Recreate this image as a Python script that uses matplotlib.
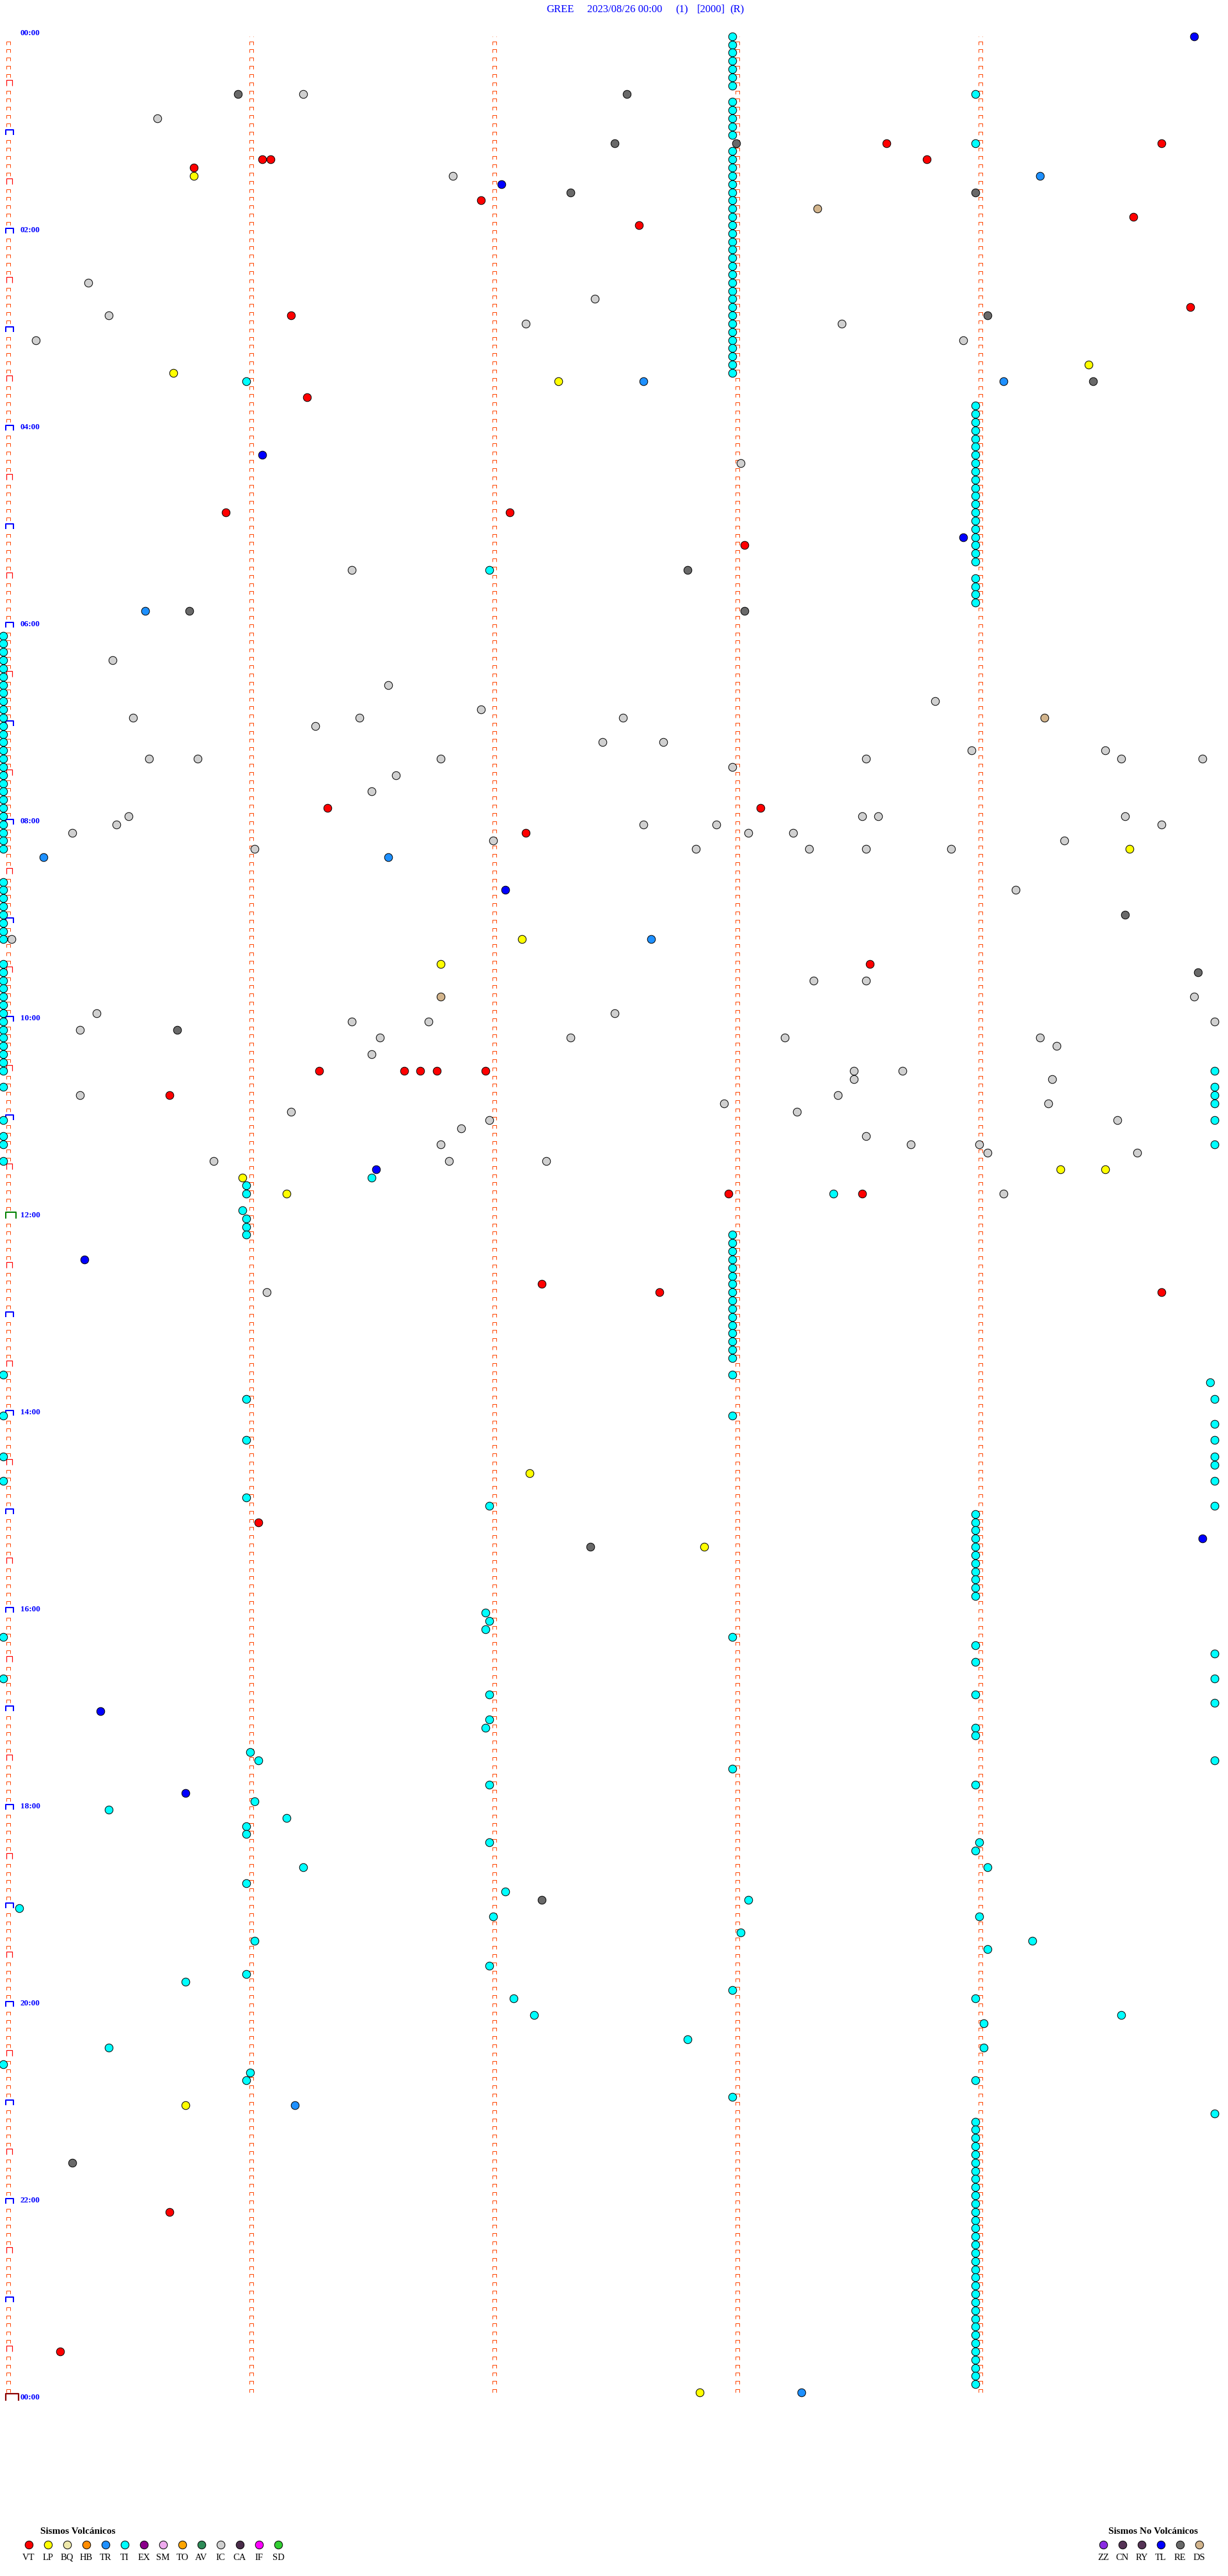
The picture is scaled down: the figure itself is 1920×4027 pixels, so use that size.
import matplotlib
matplotlib.use("Agg")
import matplotlib.pyplot as plt
from matplotlib.path import Path
from matplotlib.markers import MarkerStyle

# page size (pixels) and pixel -> point factor
W, H, DPI = 1920, 4027, 100
PT = 72.0 / DPI

# ---- header ----
station = "GREE"
date_label = "2023/08/26 00:00"
chan_label = "(1)"
gain_label = "[2000]"
mode_label = "(R)"

# ---- events, by type (HH:MM:SS) ----
vt_times = ["01:08:38", "01:09:46", "01:16:04", "01:16:06", "01:18:48", "01:20:47", "01:41:58",
            "01:54:39", "01:57:37", "02:49:53", "02:51:11", "03:41:15", "04:50:55", "04:52:05",
            "05:13:03", "07:51:20", "07:53:07", "08:07:09", "09:28:34", "10:31:18", "10:31:39",
            "10:31:43", "10:31:47", "10:31:59", "10:45:41", "11:47:59", "11:48:32", "12:42:13",
            "12:47:42", "12:49:46", "15:06:03", "22:05:41", "23:30:14"]

lp_times = ["01:25:47", "03:24:28", "03:25:42", "03:32:17", "08:19:38", "09:12:08", "09:26:48",
            "11:34:21", "11:34:32", "11:35:59", "11:46:10", "14:37:10", "15:22:53", "21:00:45",
            "23:57:52"]

tr_times = ["01:29:16", "03:32:38", "03:34:07", "05:50:35", "08:20:10", "08:21:35", "09:12:40",
            "21:01:12", "23:58:17"]

tl_times = ["00:04:54", "01:32:03", "04:16:04", "05:08:57", "08:42:04", "11:31:32", "12:25:20",
            "15:19:56", "17:00:24", "17:50:45"]

re_times = ["00:35:58", "00:37:34", "01:07:31", "01:08:01", "01:37:20", "01:39:00", "02:54:03",
            "03:34:29", "05:27:49", "05:50:46", "05:53:03", "08:59:37", "09:34:55", "10:05:43",
            "15:22:25", "18:57:13", "21:35:17"]

ds_times = ["01:48:21", "06:59:17", "09:46:48"]

ic_times = ["00:36:14", "00:50:38", "01:26:51", "02:30:21", "02:42:26", "02:50:26", "02:57:09",
            "02:58:27", "03:05:08", "03:08:57", "04:23:02", "05:26:26", "06:20:27", "06:36:35",
            "06:48:50", "06:51:58", "06:55:32", "06:56:28", "06:57:33", "07:01:17", "07:12:28",
            "07:12:43", "07:18:59", "07:19:32", "07:20:36", "07:20:48", "07:21:48", "07:23:33",
            "07:24:36", "07:24:56", "07:28:00", "07:31:37", "07:41:31", "07:55:31", "07:58:32",
            "07:58:36", "07:59:37", "08:00:28", "08:02:38", "08:02:56", "08:04:46", "08:05:17",
            "08:08:04", "08:08:15", "08:12:01", "08:14:22", "08:16:02", "08:17:51", "08:18:19",
            "08:18:33", "08:18:54", "08:44:10", "09:10:02", "09:38:20", "09:38:33", "09:49:54",
            "09:55:23", "09:57:31", "10:01:26", "10:01:45", "10:04:59", "10:05:19", "10:11:33",
            "10:12:20", "10:13:13", "10:14:16", "10:19:20", "10:21:31", "10:33:30", "10:33:42",
            "10:38:30", "10:39:19", "10:45:19", "10:48:26", "10:52:58", "10:54:18", "10:56:11",
            "10:58:16", "11:02:00", "11:04:35", "11:06:53", "11:13:33", "11:16:48", "11:18:44",
            "11:19:01", "11:24:03", "11:24:40", "11:25:52", "11:26:50", "11:27:14", "11:49:07",
            "12:46:05"]

ti_times = [
    # 00:00 - 03:30
    "00:03:00", "00:08:00", "00:13:00", "00:18:00", "00:23:00", "00:28:00", "00:33:00",
    "00:39:00", "00:43:00", "00:48:00", "00:53:00", "00:58:00", "01:03:00", "01:09:00",
    "01:13:00", "01:18:00", "01:23:00", "01:28:00", "01:33:00", "01:38:00", "01:43:00",
    "01:48:00", "01:53:00", "01:58:00", "02:03:00", "02:08:00", "02:13:00", "02:18:00",
    "02:23:00", "02:28:00", "02:33:00", "02:38:00", "02:43:00", "02:48:00", "02:53:00",
    "02:58:00", "03:03:00", "03:08:00", "03:13:00", "03:18:00", "03:23:00", "03:28:00",
    "03:31:00",
    # 03:45 - 05:50
    "03:49:00", "03:54:00", "03:59:00", "04:04:00", "04:09:00", "04:14:00", "04:19:00",
    "04:24:00", "04:29:00", "04:34:00", "04:39:00", "04:44:00", "04:49:00", "04:54:00",
    "04:59:00", "05:04:00", "05:09:00", "05:14:00", "05:19:00", "05:24:00", "05:27:00",
    "05:34:00", "05:39:00", "05:44:00", "05:49:00",
    # 06:05 - 11:25
    "06:05:00", "06:10:00", "06:15:00", "06:20:00", "06:25:00", "06:30:00", "06:35:00",
    "06:40:00", "06:45:00", "06:50:00", "06:55:00", "07:00:00", "07:05:00", "07:10:00",
    "07:15:00", "07:20:00", "07:25:00", "07:30:00", "07:35:00", "07:40:00", "07:45:00",
    "07:50:00", "07:55:00", "08:00:00", "08:05:00", "08:10:00", "08:15:00",
    "08:35:00", "08:40:00", "08:45:00", "08:50:00", "08:55:00", "09:00:00", "09:05:00",
    "09:10:00", "09:25:00", "09:30:00", "09:35:00", "09:40:00", "09:45:00", "09:50:00",
    "09:55:00", "10:00:00", "10:05:00", "10:10:00", "10:15:00", "10:20:00", "10:25:00",
    "10:30:00", "10:34:59", "10:40:00", "10:44:59", "10:49:59", "10:54:59", "11:00:00",
    "11:04:59", "11:10:00", "11:15:00", "11:19:59", "11:25:00",
    # 11:35 - 15:00
    "11:36:31", "11:41:00", "11:46:00", "11:48:25", "11:55:59", "12:01:00", "12:06:00",
    "12:11:00", "12:13:00", "12:18:00", "12:23:00", "12:28:00", "12:33:00", "12:38:00",
    "12:43:00", "12:48:00", "12:53:00", "12:58:00", "13:03:00", "13:08:00", "13:13:00",
    "13:18:00", "13:23:00", "13:28:00", "13:35:00", "13:38:00", "13:44:58", "13:51:00",
    "13:54:59", "14:00:00", "14:03:00", "14:09:59", "14:16:00", "14:19:59", "14:25:00",
    "14:29:59", "14:34:59", "14:40:00", "14:44:59", "14:51:00", "14:57:00", "14:59:59",
    # 15:00 - 16:00
    "15:04:00", "15:09:00", "15:14:00", "15:19:00", "15:24:00", "15:29:00", "15:34:00",
    "15:39:00", "15:44:00", "15:49:00", "15:54:00",
    # 16:00 - 21:10
    "16:01:59", "16:07:00", "16:11:59", "16:15:00", "16:18:00", "16:24:00", "16:29:59",
    "16:34:00", "16:40:00", "16:44:59", "16:52:00", "16:54:00", "16:59:59", "17:07:00",
    "17:11:59", "17:14:00", "17:19:00", "17:26:01", "17:31:03", "17:34:59", "17:38:00",
    "17:47:00", "17:49:00", "17:56:02", "18:00:26", "18:06:10", "18:11:00", "18:16:00",
    "18:22:00", "18:24:01", "18:29:00", "18:36:14", "18:39:03", "18:46:00", "18:52:04",
    "18:58:04", "19:00:04", "19:07:01", "19:09:01", "19:18:02", "19:21:02", "19:24:14",
    "19:29:03", "19:37:00", "19:41:00", "19:45:45", "19:53:00", "19:57:06", "19:59:00",
    "20:07:11", "20:09:36", "20:14:02", "20:22:49", "20:25:26", "20:29:02", "20:35:00",
    "20:41:01", "20:46:00", "20:49:00", "20:58:00", "21:09:59",
    # 21:10 - 23:55
    "21:14:00", "21:19:00", "21:24:00", "21:29:00", "21:34:00", "21:39:00", "21:44:00",
    "21:49:00", "21:54:00", "21:59:00", "22:04:00", "22:09:00", "22:14:00", "22:19:00",
    "22:24:00", "22:29:00", "22:34:00", "22:39:00", "22:44:00", "22:49:00", "22:54:00",
    "22:59:00", "23:04:00", "23:09:00", "23:14:00", "23:19:00", "23:24:00", "23:29:00",
    "23:34:00", "23:39:00", "23:44:00", "23:49:00", "23:54:00"]

# ---- legend ----
volc_codes = ["VT", "LP", "BQ", "HB", "TR", "TI", "EX", "SM", "TO", "AV", "IC", "CA", "IF", "SD"]
volc_colors = ["#FF0000", "#FFFF00", "#EEE8AA", "#FF8C00", "#1E90FF", "#00FFFF", "#8B008B",
               "#EEAAEE", "#FFA500", "#2E8B57", "#D0D0D0", "#4A2C4A", "#FF00FF", "#32CD32"]
nonvolc_codes = ["ZZ", "CN", "RY", "TL", "RE", "DS"]
nonvolc_colors = ["#8A2BE2", "#553355", "#553355", "#0000FF", "#696969", "#D2B48C"]

colors = dict(zip(volc_codes + nonvolc_codes, volc_colors + nonvolc_colors))
events = {"TI": ti_times, "IC": ic_times, "RE": re_times, "DS": ds_times,
          "TR": tr_times, "TL": tl_times, "LP": lp_times, "VT": vt_times}

ROW_MIN = 5          # minutes per drum line
N_COLS = 5           # one tick column per minute


def to_sec(s):
    h, m, sec = (int(v) for v in s.split(":"))
    return h * 3600 + m * 60 + sec


def bracket(x0, x1, h):
    # open "⊓" tick, anchored at its bottom, sizes in pixels
    p = Path([(x0, 0), (x0, h), (x1, h), (x1, 0)],
             [Path.MOVETO, Path.LINETO, Path.LINETO, Path.LINETO])
    return MarkerStyle(p), 2 * max(abs(x0), abs(x1), h) * PT


fig = plt.figure(figsize=(W / DPI, H / DPI), dpi=DPI)
fig.patch.set_facecolor("white")

# main drum: x = minutes inside the line, y = minute of day of the line
left, right, top, bottom = 4.9, 1904.9, 56.7, 3752.9
ax = fig.add_axes([left / W, 1 - bottom / H, (right - left) / W, (bottom - top) / H])
ax.set_xlim(0, N_COLS)
ax.set_ylim(24 * 60, 0)
ax.axis("off")

rows = list(range(0, 24 * 60, ROW_MIN))

# minute ticks, columns 1..4
m_small, ms_small = bracket(5, 11, 5)
for c in range(1, N_COLS):
    ax.plot([c] * len(rows), rows, ls="none", marker=m_small, ms=ms_small,
            mec="#FF4500", mfc="none", mew=1 * PT, zorder=2)

# column 0 ticks with hour / half-hour marks
m_half, ms_half = bracket(5, 14, 9)
m_hour, ms_hour = bracket(4, 16, 8)
m_noon, ms_noon = bracket(4, 20, 10)
m_day, ms_day = bracket(4, 24, 11)
small_rows = [r for r in rows if r % 30 != 0]
half_rows = [r for r in rows if r % 30 == 0 and r % 60 != 0]
hour_rows = [r for r in rows if r % 60 == 0 and r not in (0, 720)]
ax.plot([0] * len(small_rows), small_rows, ls="none", marker=m_small, ms=ms_small,
        mec="#FF4500", mfc="none", mew=1 * PT, zorder=2)
ax.plot([0] * len(half_rows), half_rows, ls="none", marker=m_half, ms=ms_half,
        mec="#FF0000", mfc="none", mew=1.2 * PT, zorder=2)
ax.plot([0] * len(hour_rows), hour_rows, ls="none", marker=m_hour, ms=ms_hour,
        mec="#0000FF", mfc="none", mew=2 * PT, zorder=2)
ax.plot([0], [720], ls="none", marker=m_noon, ms=ms_noon,
        mec="#008000", mfc="none", mew=2 * PT, zorder=2)
ax.plot([0, 0], [0, 1440], ls="none", marker=m_day, ms=ms_day,
        mec="#8B0000", mfc="none", mew=2.2 * PT, zorder=2)

# hour labels every 2 hours
for hr in range(0, 25, 2):
    ax.annotate(f"{hr % 24:02d}:00", (0, hr * 60), xytext=(27, 5), textcoords="offset pixels",
                ha="left", va="center", color="#0000FF", fontsize=9.5,
                family="Liberation Serif", weight="bold", annotation_clip=False)

# events
for code, times in events.items():
    secs = [to_sec(t) for t in times]
    xs = [(s % (ROW_MIN * 60)) / 60 for s in secs]
    ys = [(s // (ROW_MIN * 60)) * ROW_MIN for s in secs]
    ax.plot(xs, ys, ls="none", marker="o", ms=12.5 * PT, mfc=colors[code],
            mec="black", mew=1 * PT, zorder=3, clip_on=False)

# overlay in page pixels for header and legend
ov = fig.add_axes([0, 0, 1, 1])
ov.set_xlim(0, W)
ov.set_ylim(H, 0)
ov.axis("off")
ov.patch.set_alpha(0)

hdr = dict(color="#0000FF", fontsize=12, family="Liberation Serif", va="center", ha="left")
ov.text(854, 15, station, **hdr)
ov.text(918, 15, date_label, **hdr)
ov.text(1056, 15, chan_label, **hdr)
ov.text(1090, 15, gain_label, **hdr)
ov.text(1141, 15, mode_label, **hdr)

leg_title = dict(fontsize=11, family="Liberation Serif", weight="bold", va="center", ha="left")
leg_lab = dict(fontsize=10.5, family="Liberation Serif", va="center", ha="center")

ov.text(63, 3957, "Sismos Volcánicos", **leg_title)
for i, (code, col) in enumerate(zip(volc_codes, volc_colors)):
    ov.plot(45 + 30 * i, 3978, marker="o", ms=12.5 * PT, mfc=col, mec="black", mew=1 * PT)
    ov.text(45 + 30 * i, 3998, code, **leg_lab)

ov.text(1733, 3957, "Sismos No Volcánicos", **leg_title)
for i, (code, col) in enumerate(zip(nonvolc_codes, nonvolc_colors)):
    ov.plot(1725 + 30 * i, 3978, marker="o", ms=12.5 * PT, mfc=col, mec="black", mew=1 * PT)
    ov.text(1725 + 30 * i, 3998, code, **leg_lab)

fig.savefig("out.png", dpi=DPI, facecolor="white")
